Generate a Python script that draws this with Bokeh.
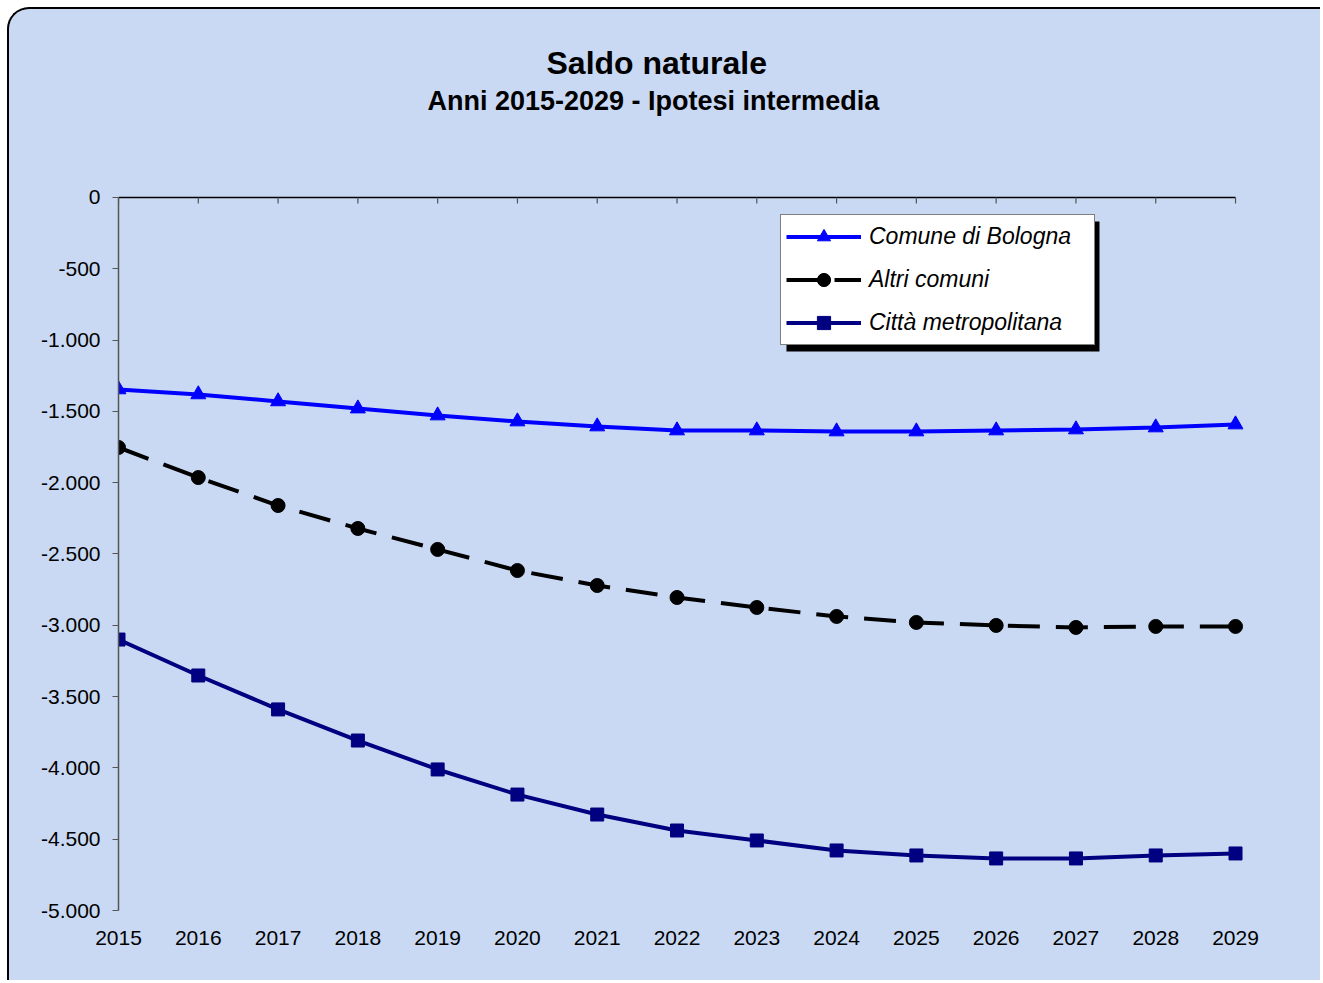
from bokeh.plotting import figure
from bokeh.models import (ColumnDataSource, Range1d, LinearAxis, FixedTicker, Legend,
                          LegendItem, Title, BoxAnnotation)
from bokeh.embed import file_html
from bokeh.resources import INLINE

years = list(range(2015, 2030))
bologna = [-1346, -1381, -1430, -1480, -1529, -1571, -1606, -1634, -1634, -1641, -1641, -1634, -1627, -1613, -1592]
altri = [-1753, -1964, -2160, -2321, -2468, -2616, -2721, -2805, -2875, -2938, -2980, -3001, -3015, -3008, -3008]
citta = [-3100, -3352, -3590, -3808, -4011, -4187, -4327, -4439, -4509, -4579, -4614, -4635, -4635, -4614, -4600]
y_ticks = [0, -500, -1000, -1500, -2000, -2500, -3000, -3500, -4000, -4500, -5000]
y_labels = ["0", "-500", "-1.000", "-1.500", "-2.000", "-2.500", "-3.000", "-3.500", "-4.000", "-4.500", "-5.000"]
names = ["Comune di Bologna", "Altri comuni", "Città metropolitana"]

BG = "#c9d9f3"
FONT = "Liberation Sans"
Y_MIN, Y_MAX = -5000, 0
HEADROOM = 561   # empty space above the 0 line, for the titles
XPAD = 0.1       # so the last markers are not clipped

src = ColumnDataSource(dict(x=years, b=bologna, a=altri, c=citta))

p = figure(width=1313, height=973, output_backend="svg", toolbar_location=None,
           x_range=Range1d(years[0], years[-1] + XPAD),
           y_range=Range1d(Y_MIN, Y_MAX + HEADROOM),
           x_axis_location=None, y_axis_location=None,
           min_border_left=109, min_border_right=79, min_border_top=108, min_border_bottom=72,
           background_fill_color=None, border_fill_color=None, outline_line_color=None)
p.styles = {"margin-top": "7px", "margin-left": "7px", "background-color": BG,
            "border-top": "2px solid black", "border-left": "2px solid black",
            "border-top-left-radius": "22px", "overflow": "hidden"}
p.grid.visible = False

# left axis
yax = LinearAxis(ticker=FixedTicker(ticks=y_ticks), bounds=(Y_MIN, Y_MAX),
                 major_label_overrides={t: l for t, l in zip(y_ticks, y_labels)})
yax.axis_line_color = "#555555"
yax.axis_line_width = 1.5
yax.major_tick_line_color = "#555555"
yax.major_tick_out = 6
yax.major_tick_in = 0
yax.minor_tick_out = 0
yax.minor_tick_in = 0
yax.major_label_text_font = FONT
yax.major_label_text_font_size = "21px"
yax.major_label_text_color = "black"
yax.major_label_standoff = 12
p.add_layout(yax, "left")

# bottom labels only
xax = LinearAxis(ticker=FixedTicker(ticks=years))
xax.axis_line_color = None
xax.major_tick_line_color = None
xax.minor_tick_line_color = None
xax.major_label_text_font = FONT
xax.major_label_text_font_size = "21px"
xax.major_label_text_color = "black"
xax.major_label_standoff = 14
p.add_layout(xax, "below")

# category axis line at value 0 with small inward ticks
p.segment(x0=[years[0]], y0=[Y_MAX], x1=[years[-1]], y1=[Y_MAX],
          line_color="black", line_width=1.5)
p.segment(x0=years, y0=[Y_MAX] * len(years), x1=years, y1=[Y_MAX - 42] * len(years),
          line_color="#555555", line_width=1.2)

# titles
sub = Title(text="Anni 2015-2029 - Ipotesi intermedia", align="left", offset=309,
            text_font=FONT, text_font_size="27px", text_font_style="bold", text_color="black",
            standoff=4)
p.add_layout(sub, "above")
tit = Title(text="Saldo naturale", align="left", offset=428,
            text_font=FONT, text_font_size="32px", text_font_style="bold", text_color="black",
            standoff=2)
p.add_layout(tit, "above")

r1l = p.line("x", "b", source=src, line_color="#0000ff", line_width=4)
r1m = p.scatter("x", "b", source=src, marker="triangle", size=15, fill_color="#0000ff", line_color="#0000ff")
r2l = p.line("x", "a", source=src, line_color="black", line_width=4, line_dash="32 16")
r2m = p.scatter("x", "a", source=src, marker="circle", size=14, fill_color="black", line_color="black")
r3l = p.line("x", "c", source=src, line_color="#000080", line_width=4)
r3m = p.scatter("x", "c", source=src, marker="square", size=13, fill_color="#000080", line_color="#000080")

# legend drop shadow
shadow = BoxAnnotation(left=2023.372, right=2027.295, top=-168, bottom=-1080,
                       fill_color="black", fill_alpha=1, line_color=None, level="overlay")
p.add_layout(shadow)

legend = Legend(items=[LegendItem(label=names[0], renderers=[r1l, r1m]),
                       LegendItem(label=names[1], renderers=[r2l, r2m]),
                       LegendItem(label=names[2], renderers=[r3l, r3m])],
                location=(662, 565), orientation="vertical",
                label_text_font=FONT, label_text_font_size="23px", label_text_font_style="italic",
                label_text_color="black", glyph_width=75, glyph_height=33, label_height=27,
                label_width=220, label_standoff=8, spacing=10, padding=5, margin=0,
                border_line_color="black", border_line_width=1.5,
                background_fill_color="white", background_fill_alpha=1)
p.add_layout(legend, "center")

open("out.html", "w").write(file_html(p, INLINE))
